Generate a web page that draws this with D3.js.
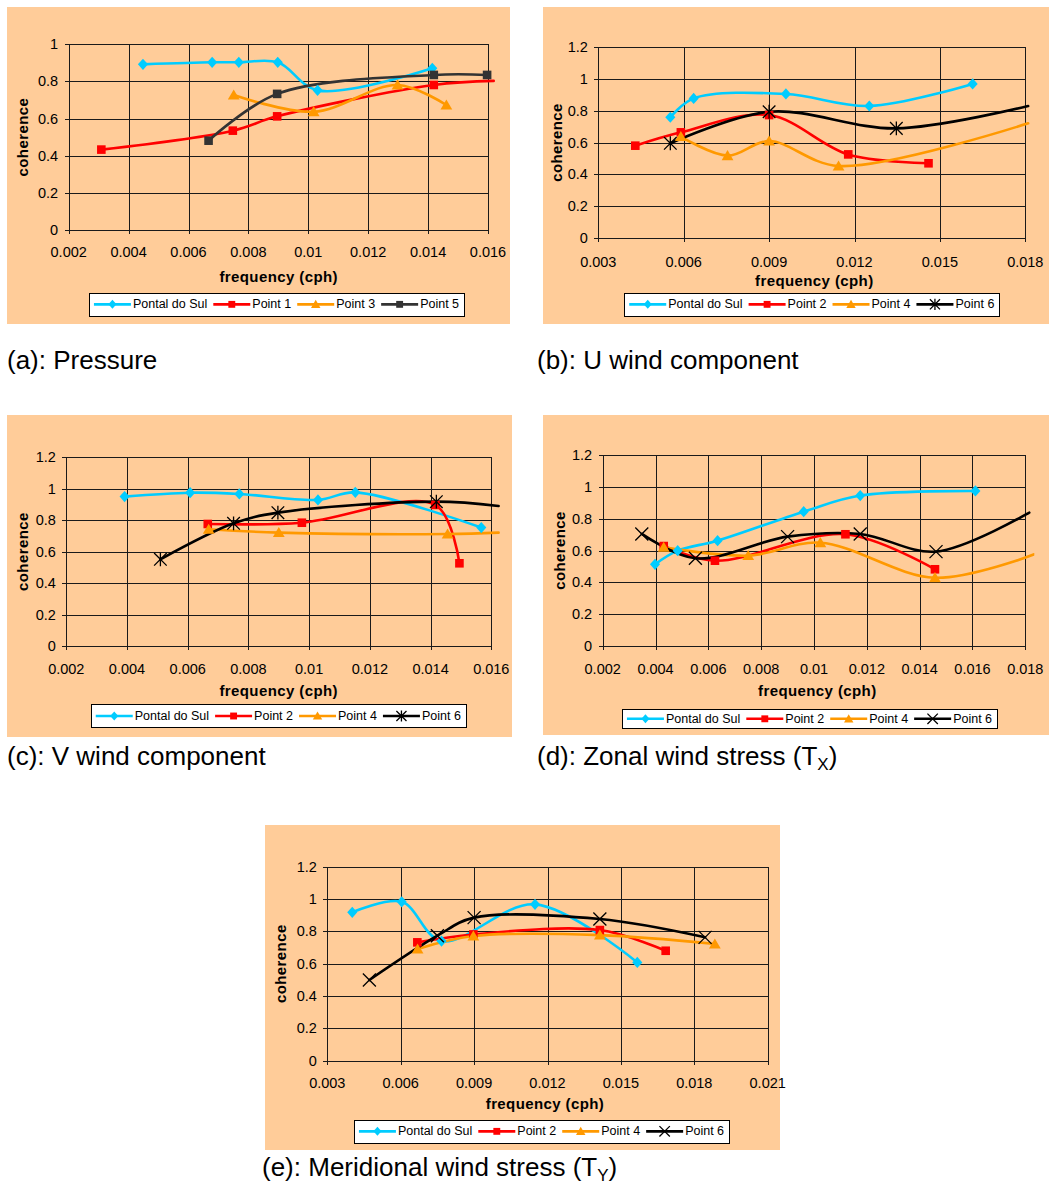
<!DOCTYPE html>
<html><head><meta charset="utf-8">
<script src="https://cdn.jsdelivr.net/npm/d3@7"></script>
<style>
body{margin:0;background:#fff;}
svg{display:block;}
text{font-family:"Liberation Sans",Arial,Helvetica,sans-serif;fill:#000;}
</style>
</head><body>
<svg id="chart" width="1049" height="1185"></svg>
<script>
// ---------------- DATA ----------------
const xTicks2to16 = [0.002,0.004,0.006,0.008,0.010,0.012,0.014,0.016];
const xLabels2to16 = ["0.002","0.004","0.006","0.008","0.01","0.012","0.014","0.016"];
const xTicks3to18 = [0.003,0.006,0.009,0.012,0.015,0.018];
const xLabels3to18 = ["0.003","0.006","0.009","0.012","0.015","0.018"];
const xTicks2to18 = [0.002,0.004,0.006,0.008,0.010,0.012,0.014,0.016,0.018];
const xLabels2to18 = ["0.002","0.004","0.006","0.008","0.01","0.012","0.014","0.016","0.018"];
const xTicks3to21 = [0.003,0.006,0.009,0.012,0.015,0.018,0.021];
const xLabels3to21 = ["0.003","0.006","0.009","0.012","0.015","0.018","0.021"];
const yTicks0to1 = [0,0.2,0.4,0.6,0.8,1];
const yLabels0to1 = ["0","0.2","0.4","0.6","0.8","1"];
const yTicks0to12 = [0,0.2,0.4,0.6,0.8,1,1.2];
const yLabels0to12 = ["0","0.2","0.4","0.6","0.8","1","1.2"];

const legendNamesA = ["Pontal do Sul","Point 1","Point 3","Point 5"];
const legendNamesB = ["Pontal do Sul","Point 2","Point 4","Point 6"];
const captions = ["(a): Pressure","(b): U wind component","(c): V wind component","(d): Zonal wind stress (T","(e): Meridional wind stress (T"];
const captionSubs = ["","","","X","Y"];
const xTitle = "frequency (cph)";
const yTitle = "coherence";

// (a) Pressure  [frequency, coherence]
const pressurePontal = [[0.00448,0.892],[0.00679,0.903],[0.00768,0.903],[0.00898,0.903],[0.01031,0.752],[0.01414,0.871]];
const pressurePoint1 = [[0.00309,0.433],[0.00748,0.535],[0.00896,0.612],[0.01419,0.781],[0.01619,0.803]];
const pressurePoint3 = [[0.00751,0.727],[0.01018,0.637],[0.01298,0.781],[0.01461,0.673]];
const pressurePoint5 = [[0.00667,0.481],[0.00896,0.733],[0.01419,0.835],[0.01597,0.835]];
// (b) U wind component
const uPontal = [[0.00553,0.759],[0.00635,0.878],[0.00959,0.906],[0.01252,0.830],[0.01615,0.969]];
const uPoint2 = [[0.0043,0.580],[0.0059,0.664],[0.009,0.773],[0.01178,0.525],[0.0146,0.469]];
const uPoint4 = [[0.0059,0.637],[0.00754,0.517],[0.009,0.609],[0.01144,0.452],[0.0181,0.721]];
const uPoint6 = [[0.00553,0.595],[0.009,0.794],[0.01347,0.689],[0.0181,0.830]];
// (c) V wind component
const vPontal = [[0.00392,0.950],[0.00608,0.975],[0.0077,0.967],[0.01029,0.929],[0.01152,0.977],[0.01567,0.753]];
const vPoint2 = [[0.00666,0.776],[0.00976,0.784],[0.01416,0.897],[0.01495,0.526]];
const vPoint4 = [[0.00669,0.742],[0.009,0.721],[0.01456,0.712],[0.01624,0.721]];
const vPoint6 = [[0.0051,0.551],[0.00751,0.780],[0.00897,0.848],[0.01419,0.918],[0.01624,0.890]];
// (d) Zonal wind stress
const txPontal = [[0.00398,0.513],[0.00484,0.599],[0.00635,0.662],[0.00961,0.844],[0.01175,0.945],[0.01611,0.974]];
const txPoint2 = [[0.00431,0.628],[0.00625,0.536],[0.01119,0.702],[0.01458,0.482]];
const txPoint4 = [[0.00431,0.620],[0.00751,0.568],[0.01024,0.649],[0.01458,0.429],[0.01834,0.576]];
const txPoint6 = [[0.00348,0.704],[0.00551,0.551],[0.009,0.687],[0.01175,0.704],[0.01462,0.593],[0.01815,0.838]];
// (e) Meridional wind stress
const tyPontal = [[0.00402,0.918],[0.00604,0.983],[0.00767,0.740],[0.01149,0.967],[0.01567,0.608]];
const tyPoint2 = [[0.00668,0.732],[0.00897,0.781],[0.01414,0.808],[0.01683,0.680]];
const tyPoint4 = [[0.00669,0.691],[0.00897,0.771],[0.01414,0.777],[0.01884,0.722]];
const tyPoint6 = [[0.00472,0.499],[0.0075,0.773],[0.009,0.885],[0.01414,0.876],[0.01844,0.763]];

// ---------------- STYLE ----------------
const BG = "#FFCC99";
const C_CYAN = "#00CCFF", C_RED = "#FF0000", C_ORANGE = "#FF9900", C_GRAY = "#333333", C_BLACK = "#000000";

const panels = [
  {bg:[7,7,503,317], plot:[68.7,488,44.3,230], xd:[0.002,0.016], yd:[0,1],
   xt:xTicks2to16, xl:xLabels2to16, yt:yTicks0to1, yl:yLabels0to1,
   tickOff:21.5, titleY:276.7, titleX:278.7, yTitleX:22, legBox:[276.5,292.7,316],
   names:legendNamesA,
   series:[{d:pressurePontal,c:C_CYAN,m:"diamond"},{d:pressurePoint1,c:C_RED,m:"square"},
           {d:pressurePoint3,c:C_ORANGE,m:"triangle"},{d:pressurePoint5,c:C_GRAY,m:"square"}],
   cap:[7,369,0]},
  {bg:[543,7,506,317], plot:[598.3,1025.3,47.3,237.7], xd:[0.003,0.018], yd:[0,1.2],
   xt:xTicks3to18, xl:xLabels3to18, yt:yTicks0to12, yl:yLabels0to12,
   tickOff:24, titleY:280.7, titleX:814.3, yTitleX:556, legBox:[811.8,292.7,316],
   names:legendNamesB,
   series:[{d:uPontal,c:C_CYAN,m:"diamond"},{d:uPoint2,c:C_RED,m:"square"},
           {d:uPoint4,c:C_ORANGE,m:"triangle"},{d:uPoint6,c:C_BLACK,m:"asterisk"}],
   cap:[537,369,1]},
  {bg:[7,415,505,322], plot:[66.3,491.3,457.3,646], xd:[0.002,0.016], yd:[0,1.2],
   xt:xTicks2to16, xl:xLabels2to16, yt:yTicks0to12, yl:yLabels0to12,
   tickOff:23, titleY:690.7, titleX:278.7, yTitleX:22, legBox:[278.3,704.3,727.7],
   names:legendNamesB,
   series:[{d:vPontal,c:C_CYAN,m:"diamond"},{d:vPoint2,c:C_RED,m:"square"},
           {d:vPoint4,c:C_ORANGE,m:"triangle"},{d:vPoint6,c:C_BLACK,m:"asterisk"}],
   cap:[7,765,2]},
  {bg:[543,415,506,320], plot:[602.7,1025.3,455,646], xd:[0.002,0.018], yd:[0,1.2],
   xt:xTicks2to18, xl:xLabels2to18, yt:yTicks0to12, yl:yLabels0to12,
   tickOff:23, titleY:690.7, titleX:817.3, yTitleX:559.3, legBox:[809.5,709.3,728.3],
   names:legendNamesB,
   series:[{d:txPontal,c:C_CYAN,m:"diamond"},{d:txPoint2,c:C_RED,m:"square"},
           {d:txPoint4,c:C_ORANGE,m:"triangle"},{d:txPoint6,c:C_BLACK,m:"x"}],
   cap:[537,765,3]},
  {bg:[265,825,515,325], plot:[327.3,767.7,866.7,1060.7], xd:[0.003,0.021], yd:[0,1.2],
   xt:xTicks3to21, xl:xLabels3to21, yt:yTicks0to12, yl:yLabels0to12,
   tickOff:22.6, titleY:1103.3, titleX:545, yTitleX:280, legBox:[541.5,1120,1142.7],
   names:legendNamesB,
   series:[{d:tyPontal,c:C_CYAN,m:"diamond"},{d:tyPoint2,c:C_RED,m:"square"},
           {d:tyPoint4,c:C_ORANGE,m:"triangle"},{d:tyPoint6,c:C_BLACK,m:"x"}],
   cap:[262,1176,4]}
];

const svg = d3.select("#chart");

function drawMarker(g, type, cx, cy, color, s) {
  s = s || 1;
  if (type === "diamond") {
    const r = 5.6*s;
    g.append("path").attr("d",`M${cx},${cy-r}L${cx+r*0.9},${cy}L${cx},${cy+r}L${cx-r*0.9},${cy}Z`).attr("fill",color);
  } else if (type === "square") {
    const r = 4.3*s;
    g.append("rect").attr("x",cx-r).attr("y",cy-r).attr("width",2*r).attr("height",2*r).attr("fill",color);
  } else if (type === "triangle") {
    const r = 5.6*s;
    g.append("path").attr("d",`M${cx},${cy-r}L${cx+r*1.05},${cy+r*0.8}L${cx-r*1.05},${cy+r*0.8}Z`).attr("fill",color);
  } else if (type === "asterisk") {
    const r = 6.3*s;
    g.append("path").attr("d",`M${cx-r},${cy-r}L${cx+r},${cy+r}M${cx+r},${cy-r}L${cx-r},${cy+r}M${cx},${cy-r*1.1}L${cx},${cy+r*1.1}`)
      .attr("stroke",color).attr("stroke-width",1.3).attr("fill","none");
  } else if (type === "x") {
    const r = 6.5*s;
    g.append("path").attr("d",`M${cx-r},${cy-r}L${cx+r},${cy+r}M${cx+r},${cy-r}L${cx-r},${cy+r}`)
      .attr("stroke",color).attr("stroke-width",1.3).attr("fill","none");
  }
}

panels.forEach((p, pi) => {
  const g = svg.append("g");
  const [bx,by,bw,bh] = p.bg;
  g.append("rect").attr("x",bx).attr("y",by).attr("width",bw).attr("height",bh).attr("fill",BG);
  const [x0,x1,y0,y1] = p.plot;
  const x = d3.scaleLinear().domain(p.xd).range([x0,x1]);
  const y = d3.scaleLinear().domain(p.yd).range([y1,y0]);

  // gridlines
  const grid = g.append("g").attr("stroke","#1a1a1a").attr("stroke-width",1).attr("shape-rendering","crispEdges");
  p.yt.forEach(t => grid.append("line").attr("x1",x0-4).attr("x2",x1).attr("y1",Math.round(y(t))+0.5).attr("y2",Math.round(y(t))+0.5));
  p.xt.forEach(t => grid.append("line").attr("x1",Math.round(x(t))+0.5).attr("x2",Math.round(x(t))+0.5).attr("y1",y0).attr("y2",y1+4));

  // tick labels
  p.xt.forEach((t,i) => g.append("text").attr("x",x(t)).attr("y",y1+p.tickOff).attr("text-anchor","middle")
     .attr("dominant-baseline","central").attr("font-size","14.5px").text(p.xl[i]));
  p.yt.forEach((t,i) => g.append("text").attr("x",x0-10.5).attr("y",y(t)).attr("text-anchor","end")
     .attr("dominant-baseline","central").attr("font-size","14.5px").text(p.yl[i]));

  // axis titles
  g.append("text").attr("x",p.titleX).attr("y",p.titleY).attr("text-anchor","middle").attr("dominant-baseline","central")
    .attr("font-size","15px").attr("font-weight","bold").attr("letter-spacing","0.4px").text(xTitle);
  g.append("text").attr("transform",`translate(${p.yTitleX},${(y0+y1)/2}) rotate(-90)`).attr("text-anchor","middle")
    .attr("dominant-baseline","central").attr("font-size","15px").attr("font-weight","bold").attr("letter-spacing","0.4px").text(yTitle);

  // clip
  const cid = "clip"+pi;
  g.append("clipPath").attr("id",cid).append("rect").attr("x",x0-2).attr("y",y0-12).attr("width",x1-x0+11).attr("height",y1-y0+14);

  const line = d3.line().x(d=>x(d[0])).y(d=>y(d[1])).curve(d3.curveCatmullRom.alpha(0.5));
  const sg = g.append("g").attr("clip-path",`url(#${cid})`);
  p.series.forEach(s => {
    sg.append("path").datum(s.d).attr("d",line).attr("fill","none").attr("stroke",s.c).attr("stroke-width",2.6)
      .attr("stroke-linejoin","round").attr("stroke-linecap","round");
  });
  p.series.forEach(s => {
    s.d.filter(d => d[0] <= p.xd[1] + 1e-9 && d[0] >= p.xd[0]).forEach(d => drawMarker(sg, s.m, x(d[0]), y(d[1]), s.c, 1));
  });

  // legend
  const [lcx, ly0, ly1] = p.legBox;
  const lg = g.append("g");
  const lcy = (ly0+ly1)/2;
  const items = [];
  let cur = 0;
  p.series.forEach((s,i) => {
    const t = lg.append("text").attr("y",lcy).attr("dominant-baseline","central").attr("font-size","12.5px").text(p.names[i]);
    const w = t.node().getComputedTextLength();
    items.push({t, s, start:cur});
    cur += 37 + 2 + w + 6;
  });
  const total = cur - 6;
  const left = lcx - total/2;
  lg.insert("rect","text").attr("x",Math.round(left-5)+0.5).attr("y",Math.round(ly0)+0.5).attr("width",Math.round(total+10))
    .attr("height",Math.round(ly1-ly0)).attr("fill","#fff").attr("stroke","#000").attr("stroke-width",1);
  items.forEach(it => {
    const sx = left + it.start;
    lg.append("line").attr("x1",sx).attr("x2",sx+37).attr("y1",lcy).attr("y2",lcy).attr("stroke",it.s.c).attr("stroke-width",2.6);
    drawMarker(lg, it.s.m, sx+18.5, lcy, it.s.c, 0.8);
    it.t.attr("x", sx+39);
  });

  // caption
  const [cx, cy, ci] = p.cap;
  const ct = svg.append("text").attr("x",cx).attr("y",cy).attr("font-size","26px").text(captions[ci]);
  if (captionSubs[ci]) {
    ct.append("tspan").attr("font-size","17px").attr("dy",5).text(captionSubs[ci]);
    ct.append("tspan").attr("font-size","26px").attr("dy",-5).text(")");
  }
});
</script>
</body></html>
